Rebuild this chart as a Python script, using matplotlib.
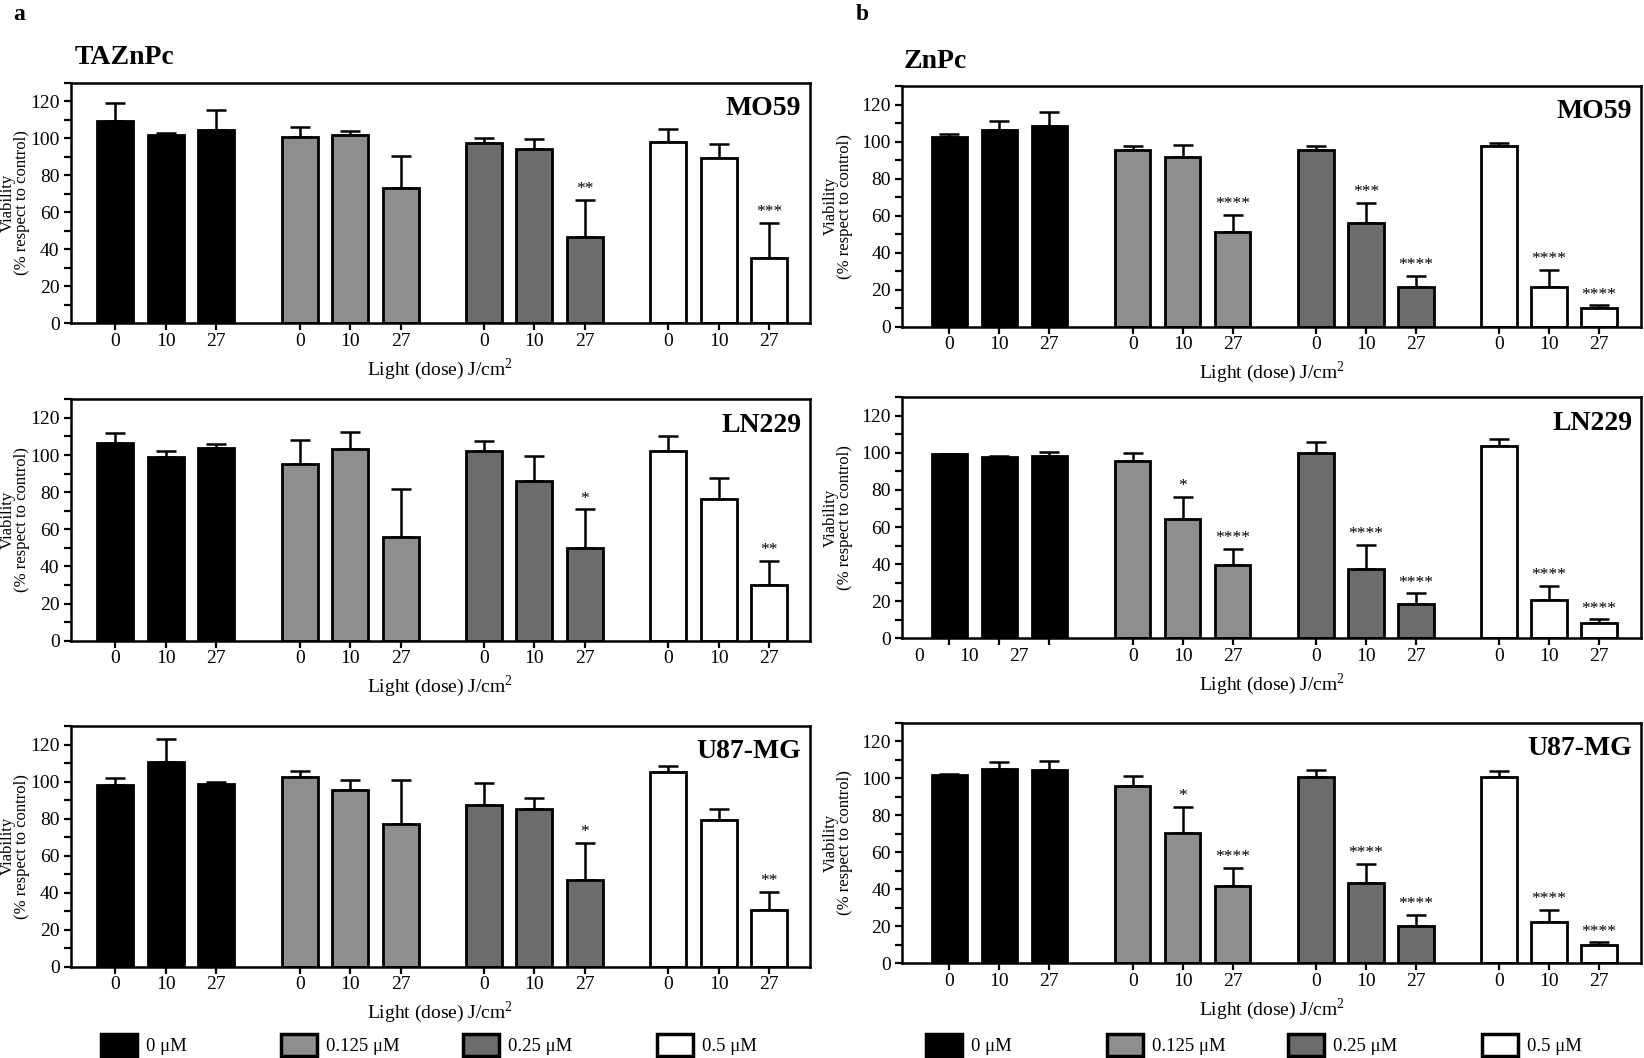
import matplotlib.pyplot as plt
from matplotlib.patches import Patch
from matplotlib.transforms import ScaledTranslation
from matplotlib.ticker import MultipleLocator

plt.rcParams['font.family'] = 'Liberation Serif'
plt.rcParams['mathtext.fontset'] = 'custom'
plt.rcParams['mathtext.rm'] = 'Liberation Serif'

doses = ['0', '10', '27']
concs = ['0 μM', '0.125 μM', '0.25 μM', '0.5 μM']
colors = ['#000000', '#8e8e8e', '#6c6c6c', '#ffffff']

# TAZnPc, values grouped by concentration (0, 10, 27 J/cm2 in each)
taz_mo59_mean = [109.5, 101.8, 104.5, 100.6, 101.7, 73.3, 97.6, 94.4, 46.5, 98.0, 89.2, 35.5]
taz_mo59_err = [9.6, 0.8, 10.5, 5.6, 2.3, 17.2, 2.4, 5.3, 20.0, 7.0, 7.8, 18.8]
taz_mo59_sig = ['', '', '', '', '', '', '', '', '**', '', '', '***']

taz_ln229_mean = [106.2, 98.7, 104.0, 94.9, 103.5, 55.6, 102.4, 86.1, 49.7, 102.2, 76.1, 30.0]
taz_ln229_err = [5.7, 3.4, 1.7, 13.4, 9.0, 26.0, 5.4, 13.1, 21.0, 7.8, 11.3, 12.9]
taz_ln229_sig = ['', '', '', '', '', '', '', '', '*', '', '', '**']

taz_u87_mean = [97.9, 110.3, 98.8, 102.6, 95.6, 77.1, 87.2, 85.0, 46.8, 105.1, 79.3, 30.7]
taz_u87_err = [4.0, 12.9, 1.2, 3.2, 5.4, 23.7, 11.8, 5.9, 19.9, 3.2, 5.7, 9.7]
taz_u87_sig = ['', '', '', '', '', '', '', '', '*', '', '', '**']

# ZnPc
zn_mo59_mean = [102.4, 106.0, 108.5, 95.6, 91.7, 50.9, 95.4, 55.8, 21.5, 97.8, 21.5, 10.0]
zn_mo59_err = [1.5, 4.9, 7.7, 2.0, 6.6, 9.4, 2.0, 11.1, 5.8, 1.6, 9.0, 1.5]
zn_mo59_sig = ['', '', '', '', '', '****', '', '***', '****', '', '****', '****']

zn_ln229_mean = [99.2, 97.9, 98.3, 95.6, 64.2, 39.8, 100.1, 37.5, 18.3, 103.5, 20.8, 8.3]
zn_ln229_err = [0.3, 0.6, 2.1, 4.5, 11.9, 8.5, 5.7, 12.7, 5.9, 3.8, 7.4, 1.9]
zn_ln229_sig = ['', '', '', '', '*', '****', '', '****', '****', '', '****', '****']

zn_u87_mean = [101.5, 104.9, 104.2, 95.7, 70.3, 41.6, 100.6, 43.5, 20.0, 100.6, 22.5, 9.9]
zn_u87_err = [0.8, 4.0, 5.2, 5.6, 14.4, 10.0, 3.6, 10.3, 6.1, 3.2, 6.3, 1.4]
zn_u87_sig = ['', '', '', '', '*', '****', '', '****', '****', '', '****', '****']

W, H = 1644, 1058
fig = plt.figure(figsize=(W / 100, H / 100), dpi=100)


def add_ax(l, r, t, b):
    return fig.add_axes([l / W, 1 - b / H, (r - l) / W, (b - t) / H])


def panel(ax, mean, err, sig, name, gap, xlim, h_px, ylab_px, w_px, shift_first=False):
    xs = []
    for g in range(4):
        x = [g * gap + i for i in range(3)]
        xs += x
        ax.bar(x, mean[g * 3:g * 3 + 3], width=0.71, color=colors[g],
               edgecolor='black', linewidth=2.0, zorder=2)
    lo = [0] * len(mean)
    ax.errorbar(xs, mean, yerr=[lo, err], fmt='none', ecolor='black',
                elinewidth=1.8, capsize=7.5, capthick=1.8, zorder=1)
    for x, m, e, s in zip(xs, mean, err, sig):
        if s:
            ax.text(x, m + e + 1.5, s, ha='center', va='bottom', fontsize=12.5)
    ax.set_xlim(*xlim)
    ax.set_ylim(0, 130)
    ax.set_yticks(range(0, 121, 20))
    ax.yaxis.set_minor_locator(MultipleLocator(10))
    ax.set_xticks(xs)
    ax.set_xticklabels(doses * 4)
    ax.tick_params(axis='both', which='both', direction='out', width=1.6,
                   length=5, labelsize=14, pad=2)
    ax.tick_params(axis='y', pad=3)
    ax.tick_params(axis='x', which='minor', bottom=False)
    for sp in ax.spines.values():
        sp.set_linewidth(1.8)
    if shift_first:
        off = ScaledTranslation(-0.3, 0, fig.dpi_scale_trans)
        for lab in ax.get_xticklabels()[:3]:
            lab.set_transform(lab.get_transform() + off)
    ax.set_xlabel(r'Light (dose) J/cm$^2$', fontsize=14)
    ax.xaxis.set_label_coords(0.5, -33 / h_px)
    ax.set_ylabel('Viability\n(% respect to control)', fontsize=12, linespacing=0.85)
    ax.yaxis.set_label_coords(-ylab_px / w_px, 0.5)
    ax.text(0.988, 0.945, name, transform=ax.transAxes, ha='right', va='top',
            fontsize=20, fontweight='bold')


left_rows = [(82.7, 323.3), (399.3, 640.7), (726, 966.7)]
right_rows = [(86, 326.7), (397.3, 638.3), (722.7, 963.3)]
left_x = (70.7, 810)
right_x = (902, 1641)

taz = [(taz_mo59_mean, taz_mo59_err, taz_mo59_sig, 'MO59'),
       (taz_ln229_mean, taz_ln229_err, taz_ln229_sig, 'LN229'),
       (taz_u87_mean, taz_u87_err, taz_u87_sig, 'U87-MG')]
zn = [(zn_mo59_mean, zn_mo59_err, zn_mo59_sig, 'MO59'),
      (zn_ln229_mean, zn_ln229_err, zn_ln229_sig, 'LN229'),
      (zn_u87_mean, zn_u87_err, zn_u87_sig, 'U87-MG')]

for (t, b), d in zip(left_rows, taz):
    ax = add_ax(left_x[0], left_x[1], t, b)
    panel(ax, *d, gap=3.65, xlim=(-0.885, 13.76), h_px=b - t, ylab_px=40.5,
          w_px=left_x[1] - left_x[0])

for k, ((t, b), d) in enumerate(zip(right_rows, zn)):
    ax = add_ax(right_x[0], right_x[1], t, b)
    panel(ax, *d, gap=3.67, xlim=(-0.95, 13.85), h_px=b - t, ylab_px=49,
          w_px=right_x[1] - right_x[0], shift_first=(k == 1))

fig.text(19 / W, 1 - 14 / H, 'a', fontsize=17, fontweight='bold', ha='center', va='center')
fig.text(862 / W, 1 - 14 / H, 'b', fontsize=17, fontweight='bold', ha='center', va='center')
fig.text(75 / W, 1 - 58 / H, 'TAZnPc', fontsize=20, fontweight='bold', ha='left', va='center')
fig.text(904 / W, 1 - 62 / H, 'ZnPc', fontsize=20, fontweight='bold', ha='left', va='center')

leg_x = [[101, 281, 463, 657], [926, 1107, 1288, 1482]]
for col in leg_x:
    for x, c, lab in zip(col, colors, concs):
        h = Patch(facecolor=c, edgecolor='black', linewidth=2.5)
        fig.legend(handles=[h], labels=[lab], loc='center left',
                   bbox_to_anchor=(x / W, 1 - 1045 / H), frameon=False,
                   handlelength=1.9, handleheight=1.4, handletextpad=0.5,
                   borderpad=0, borderaxespad=0, fontsize=13.5)

fig.savefig('out.png', dpi=100)
